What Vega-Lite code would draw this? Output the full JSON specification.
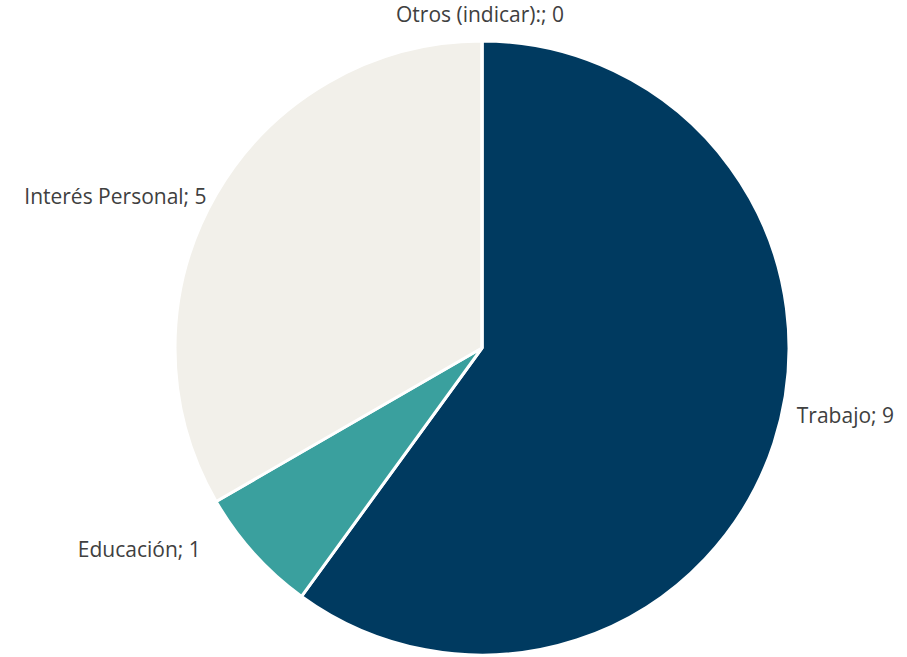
{
  "$schema": "https://vega.github.io/schema/vega-lite/v6.json",
  "width": 800,
  "height": 618,
  "autosize": {"type": "none"},
  "padding": {"left": 82, "top": 39, "right": 25, "bottom": 0},
  "background": "white",
  "view": {"stroke": null},
  "data": {
    "values": [
      {"categoria": "Trabajo", "valor": 9, "orden": 1, "etiqueta": "Trabajo; 9"},
      {"categoria": "Educación", "valor": 1, "orden": 2, "etiqueta": "Educación; 1"},
      {"categoria": "Interés Personal", "valor": 5, "orden": 3, "etiqueta": "Interés Personal; 5"},
      {"categoria": "Otros (indicar):", "valor": 0, "orden": 4, "etiqueta": "Otros (indicar):; 0"}
    ]
  },
  "encoding": {
    "theta": {"field": "valor", "type": "quantitative", "stack": true},
    "order": {"field": "orden", "type": "quantitative"}
  },
  "layer": [
    {
      "mark": {"type": "arc", "outerRadius": 307, "stroke": "white", "strokeWidth": 3},
      "encoding": {
        "color": {
          "field": "categoria",
          "type": "nominal",
          "scale": {
            "domain": ["Trabajo", "Educación", "Interés Personal", "Otros (indicar):"],
            "range": ["#003A60", "#3AA09E", "#F2F0EA", "#A5A5A5"]
          },
          "legend": null
        }
      }
    },
    {
      "mark": {"type": "text", "radius": 331, "align": "left", "baseline": "middle", "dy": -33, "font": "Open Sans", "fontSize": 21, "color": "#404040"},
      "encoding": {
        "text": {"condition": {"test": "datum.categoria === 'Trabajo'", "field": "etiqueta"}, "value": ""}
      }
    },
    {
      "mark": {"type": "text", "radius": 303, "align": "right", "baseline": "middle", "dx": -56, "font": "Open Sans", "fontSize": 21, "color": "#404040"},
      "encoding": {
        "text": {"condition": {"test": "datum.categoria === 'Educación'", "field": "etiqueta"}, "value": ""}
      }
    },
    {
      "mark": {"type": "text", "radius": 318, "align": "right", "baseline": "middle", "dy": 9, "font": "Open Sans", "fontSize": 21, "color": "#404040"},
      "encoding": {
        "text": {"condition": {"test": "datum.categoria === 'Interés Personal'", "field": "etiqueta"}, "value": ""}
      }
    },
    {
      "mark": {"type": "text", "radius": 332, "align": "center", "baseline": "middle", "dx": -2, "font": "Open Sans", "fontSize": 21, "color": "#404040"},
      "encoding": {
        "text": {"condition": {"test": "datum.categoria === 'Otros (indicar):'", "field": "etiqueta"}, "value": ""}
      }
    }
  ]
}
